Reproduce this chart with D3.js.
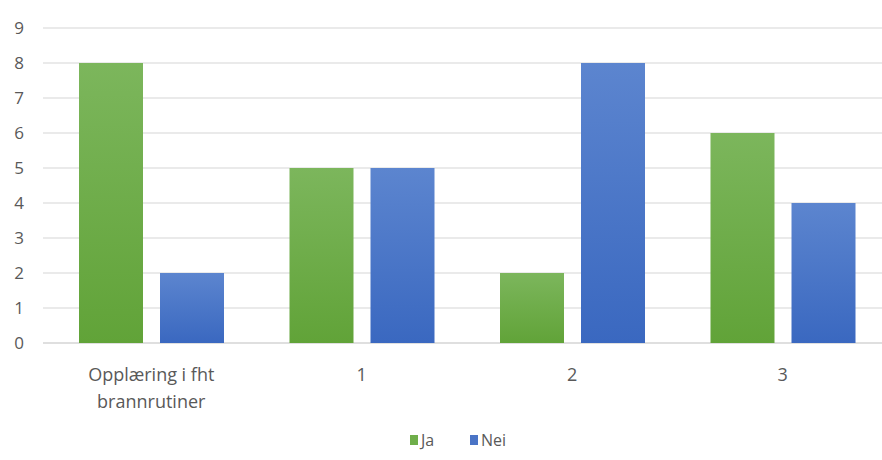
<!DOCTYPE html>
<html><head><meta charset="utf-8">
<script src="https://cdn.jsdelivr.net/npm/d3@7"></script>
<style>body{margin:0;background:#fff;} svg{display:block;font-family:"Open Sans","Noto Sans",sans-serif;}</style>
</head><body><svg id="c" width="882" height="460"></svg>
<script>
const categories = [["Opplæring i fht","brannrutiner"],["1"],["2"],["3"]];
const seriesNames = ["Ja","Nei"];
const jaValues = [8,5,2,6];
const neiValues = [2,5,8,4];
const yTicks = [0,1,2,3,4,5,6,7,8,9];

const svg = d3.select("#c");
const defs = svg.append("defs");
function grad(id, top, bot){
  const g = defs.append("linearGradient").attr("id",id).attr("x1",0).attr("y1",0).attr("x2",0).attr("y2",1);
  g.append("stop").attr("offset","0%").attr("stop-color",top);
  g.append("stop").attr("offset","100%").attr("stop-color",bot);
}
grad("gJa","#7cb65c","#61a338");
grad("gNei","#5c85cf","#3a68c0");
const fills = {Ja:"url(#gJa)",Nei:"url(#gNei)"};
const legendFill = {Ja:"#6fae4a",Nei:"#4a74c6"};
const textColor = "#595959";

const y = d3.scaleLinear().domain([0,9]).range([343,28]);
const x = d3.scaleBand().domain(d3.range(categories.length)).range([46,888]).paddingInner(0).paddingOuter(0);
const inner = d3.scaleBand().domain(seriesNames).range([33,178]).paddingInner(0.21).paddingOuter(0);

// gridlines
svg.append("g").selectAll("line").data(yTicks).join("line")
  .attr("x1",43).attr("x2",882)
  .attr("y1",d=>y(d)).attr("y2",d=>y(d))
  .attr("stroke",d=>d===0?"#d4d4d4":"#e3e3e3").attr("stroke-width",1.3);

// y axis labels
const yAxis = d3.axisLeft(y).tickValues(yTicks).tickSize(0).tickPadding(0);
const ya = svg.append("g").attr("transform","translate(24,0)").call(yAxis);
ya.select(".domain").remove();
ya.selectAll("text").attr("font-size",17).attr("fill",textColor).attr("font-family","'Open Sans','Noto Sans',sans-serif");

// bars
const data = categories.map((c,i)=>({i, vals:[{s:"Ja",v:jaValues[i]},{s:"Nei",v:neiValues[i]}]}));
const groups = svg.append("g").selectAll("g").data(data).join("g")
  .attr("transform",d=>`translate(${x(d.i)},0)`);
groups.selectAll("rect").data(d=>d.vals).join("rect")
  .attr("x",d=>inner(d.s)).attr("width",inner.bandwidth())
  .attr("y",d=>y(d.v)).attr("height",d=>y(0)-y(d.v))
  .attr("fill",d=>fills[d.s]);

// category labels
const xl = svg.append("g").selectAll("text").data(categories).join("text")
  .attr("text-anchor","middle").attr("font-size",18).attr("fill",textColor)
  .attr("transform",(d,i)=>`translate(${x(i)+x.bandwidth()/2},381)`);
xl.selectAll("tspan").data(d=>d).join("tspan")
  .attr("x",0).attr("dy",(d,j)=>j===0?0:27).text(d=>d);

// legend
const lg = svg.append("g").attr("transform","translate(410,435)");
const items = [{s:"Ja",x:0},{s:"Nei",x:60}];
items.forEach(it=>{
  lg.append("rect").attr("x",it.x).attr("y",0).attr("width",8).attr("height",10).attr("fill",legendFill[it.s]);
  lg.append("text").attr("x",it.x+11).attr("y",11).attr("font-size",16).attr("fill",textColor).text(it.s);
});
</script></body></html>
